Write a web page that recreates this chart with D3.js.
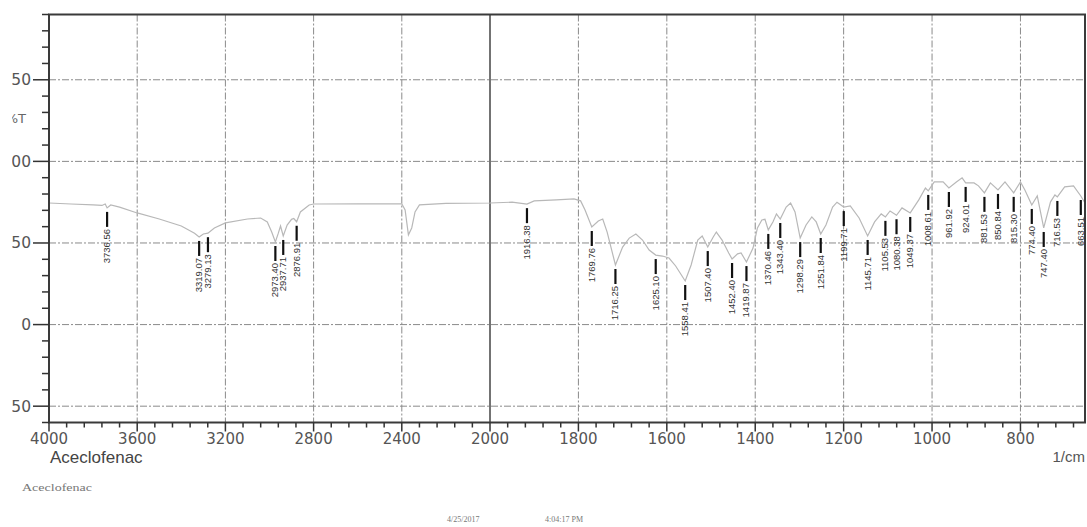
<!DOCTYPE html>
<html>
<head>
<meta charset="utf-8">
<script src="https://cdn.jsdelivr.net/npm/d3@7"></script>
<style>
  body { margin: 0; background: #fff; }
  svg { display: block; }
</style>
</head>
<body>
<script>
// spectrum (1/cm, %T)
const wavenumbers = [4000, 3900, 3800, 3760, 3745, 3736.56, 3720, 3680, 3600, 3500, 3400, 3340, 3319.07, 3300, 3279.13, 3250, 3200, 3100, 3040, 3010, 2990, 2973.40, 2960, 2950, 2937.71, 2920, 2900, 2890, 2876.91, 2860, 2820, 2800, 2600, 2400, 2385, 2370, 2355, 2340, 2320, 2200, 2000, 1950, 1916.38, 1900, 1850, 1810, 1795, 1785, 1769.76, 1755, 1745, 1735, 1716.25, 1700, 1685, 1670, 1655, 1640, 1625.10, 1610, 1595, 1580, 1558.41, 1545, 1530, 1520, 1507.40, 1495, 1488, 1475, 1460, 1452.40, 1440, 1432, 1419.87, 1405, 1395, 1385, 1378, 1370.46, 1360, 1352, 1343.40, 1330, 1320, 1310, 1298.29, 1285, 1272, 1262, 1251.84, 1240, 1225, 1215, 1199.71, 1185, 1165, 1145.71, 1130, 1115, 1105.53, 1095, 1080.38, 1068, 1049.37, 1030, 1015, 1008.61, 995, 975, 961.92, 945, 932, 924.01, 905, 895, 881.53, 868, 850.84, 835, 815.30, 800, 790, 774.40, 762, 747.40, 732, 722, 716.53, 700, 680, 663.51, 654];
const transmittance = [74.5, 73.9, 73.3, 73, 73.9, 71.5, 73.3, 72, 68.4, 64.7, 60.4, 56, 53.7, 55.5, 56, 59.2, 62.3, 64.7, 65.3, 62.9, 56.7, 50.6, 56, 60.4, 54.3, 61, 64.5, 65, 63, 69, 73.3, 73.9, 74, 74, 70.2, 55, 59.2, 69, 73.3, 74.3, 74.5, 75, 73.8, 75.8, 76.4, 77, 75.8, 70.2, 59.8, 63.5, 64.7, 56.7, 36.5, 47.5, 53, 55.5, 51.8, 45.7, 42.6, 42, 40.8, 35.9, 26.7, 36.5, 51.8, 54.3, 47.5, 53.7, 56.7, 51.8, 43.9, 40.2, 43.3, 43.9, 38.3, 46.9, 59.2, 64.1, 64.5, 58, 62.9, 67.8, 64.7, 72, 74.5, 69, 53, 61, 66, 62.9, 55.5, 61, 72, 75, 72, 72.7, 65.3, 54.3, 62.9, 67.8, 66, 69.6, 67, 71.5, 68.4, 76.4, 83.7, 81.9, 87.4, 87.4, 83.7, 87.4, 89.9, 86.8, 86.8, 85, 80.7, 86.8, 82.5, 87.4, 80.7, 87.4, 82.5, 73.3, 78.8, 59.2, 75.2, 79.4, 78.2, 84.4, 85, 78.8, 74.5];

// labelled peaks
const peakWavenumbers = [3736.56, 3319.07, 3279.13, 2973.40, 2937.71, 2876.91, 1916.38, 1769.76, 1716.25, 1625.10, 1558.41, 1507.40, 1452.40, 1419.87, 1370.46, 1343.40, 1298.29, 1251.84, 1199.71, 1145.71, 1105.53, 1080.38, 1049.37, 1008.61, 961.92, 924.01, 881.53, 850.84, 815.30, 774.40, 747.40, 716.53, 663.51];

const xTickValues = [4000, 3600, 3200, 2800, 2400, 2000, 1800, 1600, 1400, 1200, 1000, 800];
const yTickValues = [150, 100, 50, 0, -50];

const width = 1087, height = 527;
const plotLeft = 49, plotRight = 1085, plotTop = 14.5, plotBottom = 422.5;

const svg = d3.select("body").append("svg")
  .attr("width", width)
  .attr("height", height);

// x axis has a scale change at 2000
const x = d3.scaleLinear().domain([4000, 2000, 654]).range([plotLeft, 490, plotRight]);
const y = d3.scaleLinear().domain([-60, 190]).range([plotBottom, plotTop]);

// grid
svg.append("g").selectAll("line")
  .data(yTickValues)
  .join("line")
  .attr("x1", plotLeft).attr("x2", plotRight)
  .attr("y1", d => y(d)).attr("y2", d => y(d))
  .attr("stroke", "#8a8a8a")
  .attr("stroke-width", 1)
  .attr("stroke-dasharray", "7,2,2,2");

svg.append("g").selectAll("line")
  .data(xTickValues.filter(d => d !== 4000 && d !== 2000))
  .join("line")
  .attr("x1", d => x(d)).attr("x2", d => x(d))
  .attr("y1", plotTop).attr("y2", plotBottom)
  .attr("stroke", "#8a8a8a")
  .attr("stroke-width", 1)
  .attr("stroke-dasharray", "7,2,2,2");

// solid line at 2000 where the scale changes
svg.append("line")
  .attr("x1", x(2000)).attr("x2", x(2000))
  .attr("y1", plotTop).attr("y2", plotBottom)
  .attr("stroke", "#444")
  .attr("stroke-width", 1.5);

// spectrum
const points = wavenumbers.map((w, i) => ({ w: w, t: transmittance[i] }));
svg.append("path")
  .datum(points)
  .attr("fill", "none")
  .attr("stroke", "#b8b8b8")
  .attr("stroke-width", 1.2)
  .attr("d", d3.line().x(d => x(d.w)).y(d => y(d.t)));

// peak markers and labels
const peaks = peakWavenumbers.map(w => {
  const i = wavenumbers.indexOf(w);
  return { w: w, t: transmittance[i] };
});

const peakG = svg.append("g").selectAll("g")
  .data(peaks)
  .join("g")
  .attr("transform", d => `translate(${x(d.w)},${y(d.t) + 4})`);

peakG.append("line")
  .attr("x1", 0).attr("x2", 0)
  .attr("y1", 0).attr("y2", 15)
  .attr("stroke", "#111")
  .attr("stroke-width", 2.2);

peakG.append("text")
  .attr("transform", "translate(3,17) rotate(-90)")
  .attr("text-anchor", "end")
  .attr("font-family", "Liberation Sans, Arial, sans-serif")
  .attr("font-size", 9.5)
  .attr("fill", "#333")
  .text(d => d.w.toFixed(2));

// frame
svg.append("rect")
  .attr("x", plotLeft).attr("y", plotTop)
  .attr("width", plotRight - plotLeft).attr("height", plotBottom - plotTop)
  .attr("fill", "none")
  .attr("stroke", "#3a3a3a")
  .attr("stroke-width", 2);

// x axis ticks
const xMinor = d3.range(4000, 2000, -80).concat(d3.range(2000, 654, -40));
svg.append("g").selectAll("line")
  .data(xMinor)
  .join("line")
  .attr("x1", d => x(d)).attr("x2", d => x(d))
  .attr("y1", plotBottom)
  .attr("y2", d => xTickValues.includes(d) ? plotBottom + 9 : plotBottom + 5)
  .attr("stroke", "#333")
  .attr("stroke-width", 1.5);

svg.append("g").selectAll("text")
  .data(xTickValues)
  .join("text")
  .attr("x", d => x(d))
  .attr("y", 444)
  .attr("text-anchor", "middle")
  .attr("font-family", "DejaVu Sans, sans-serif")
  .attr("font-size", 15)
  .attr("fill", "#555")
  .text(d => d);

// y axis ticks
const yMinor = d3.range(-60, 191, 10);
svg.append("g").selectAll("line")
  .data(yMinor)
  .join("line")
  .attr("x1", d => yTickValues.includes(d) ? plotLeft - 16 : plotLeft - 7)
  .attr("x2", plotLeft)
  .attr("y1", d => y(d)).attr("y2", d => y(d))
  .attr("stroke", "#333")
  .attr("stroke-width", 1.5);

// y labels are cut off at the left edge in the original
svg.append("clipPath").attr("id", "yclip")
  .append("rect").attr("x", 12).attr("y", 0).attr("width", 37).attr("height", height);

const yLab = svg.append("g").attr("clip-path", "url(#yclip)");
yLab.selectAll("text")
  .data(yTickValues)
  .join("text")
  .attr("x", 31)
  .attr("y", d => y(d) + 5.5)
  .attr("text-anchor", "end")
  .attr("font-family", "DejaVu Sans, sans-serif")
  .attr("font-size", 15.5)
  .attr("fill", "#555")
  .text(d => d);

yLab.append("text")
  .attr("x", 26)
  .attr("y", 123)
  .attr("text-anchor", "end")
  .attr("font-family", "DejaVu Sans, sans-serif")
  .attr("font-size", 13)
  .attr("fill", "#666")
  .text("%T");

// titles and footer
svg.append("text")
  .attr("x", 50).attr("y", 463)
  .attr("font-family", "Liberation Sans, Arial, sans-serif")
  .attr("font-size", 17)
  .attr("fill", "#444")
  .text("Aceclofenac");

svg.append("text")
  .attr("x", plotRight).attr("y", 462)
  .attr("text-anchor", "end")
  .attr("font-family", "Liberation Sans, Arial, sans-serif")
  .attr("font-size", 15)
  .attr("fill", "#555")
  .text("1/cm");

svg.append("text")
  .attr("x", 22).attr("y", 491)
  .attr("font-family", "Liberation Serif, serif")
  .attr("font-size", 11)
  .attr("textLength", 70)
  .attr("lengthAdjust", "spacingAndGlyphs")
  .attr("fill", "#777")
  .text("Aceclofenac");

svg.append("text")
  .attr("x", 447).attr("y", 522)
  .attr("font-family", "Liberation Serif, serif")
  .attr("font-size", 8)
  .attr("fill", "#777")
  .text("4/25/2017");

svg.append("text")
  .attr("x", 545).attr("y", 522)
  .attr("font-family", "Liberation Serif, serif")
  .attr("font-size", 8)
  .attr("fill", "#777")
  .text("4:04:17 PM");
</script>
</body>
</html>
